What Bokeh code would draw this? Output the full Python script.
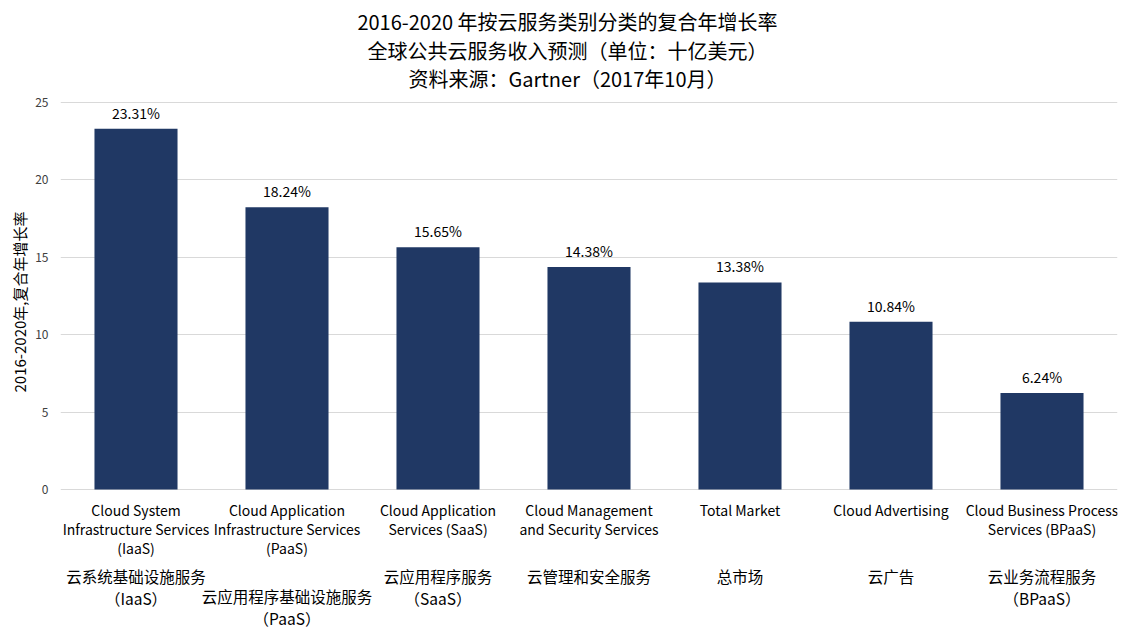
import math
from bokeh.plotting import figure
from bokeh.models import FactorRange, Range1d, FixedTicker, Label, ColumnDataSource, Title
from bokeh.core.properties import value
from bokeh.embed import file_html
from bokeh.resources import INLINE

# ---- data ----
categories = ["IaaS", "PaaS", "SaaS", "Mgmt", "Total", "Ads", "BPaaS"]
cagr = [23.31, 18.24, 15.65, 14.38, 13.38, 10.84, 6.24]
english_labels = [
    "Cloud System\nInfrastructure Services\n(IaaS)",
    "Cloud Application\nInfrastructure Services\n(PaaS)",
    "Cloud Application\nServices (SaaS)",
    "Cloud Management\nand Security Services",
    "Total Market",
    "Cloud Advertising",
    "Cloud Business Process\nServices (BPaaS)",
]
chinese_labels = [
    "云系统基础设施服务\n（IaaS）",
    "云应用程序基础设施服务\n（PaaS）",
    "云应用程序服务\n（SaaS）",
    "云管理和安全服务",
    "总市场",
    "云广告",
    "云业务流程服务\n（BPaaS）",
]
title_lines = [
    "2016-2020 年按云服务类别分类的复合年增长率",
    "全球公共云服务收入预测（单位：十亿美元）",
    "资料来源：Gartner（2017年10月）",
]
y_title = "2016-2020年,复合年增长率"
y_ticks = [0, 5, 10, 15, 20, 25]

FONT = "Noto Sans CJK SC"
BAR = "#203864"

# frame covers the full height: plot area 25 -> y=102px, 0 -> y=489px
PX_PER_UNIT = (489 - 102) / 25.0
H = 632
y_start = -(H - 489) / PX_PER_UNIT
y_end = 25 + 102 / PX_PER_UNIT

p = figure(
    width=1124, height=H,
    x_range=FactorRange(*categories, range_padding=0),
    y_range=Range1d(y_start, y_end),
    output_backend="svg", toolbar_location=None,
    min_border_left=60, min_border_right=7, min_border_top=0, min_border_bottom=0,
)
p.outline_line_color = None
p.xaxis.visible = False
p.xgrid.grid_line_color = None
p.ygrid.grid_line_color = "#d9d9d9"
p.yaxis.ticker = FixedTicker(ticks=y_ticks)
p.ygrid.ticker = FixedTicker(ticks=y_ticks)
p.yaxis.axis_line_color = None
p.yaxis.major_tick_line_color = None
p.yaxis.minor_tick_line_color = None
p.yaxis.major_tick_out = 0
p.yaxis.major_tick_in = 0
p.yaxis.major_label_text_font = FONT
p.yaxis.major_label_text_font_size = "12px"
p.yaxis.major_label_text_color = "#404040"
p.yaxis.major_label_standoff = 12

src = ColumnDataSource(dict(x=categories, top=cagr, lbl=[f"{v:.2f}%" for v in cagr]))
p.vbar(x="x", top="top", width=0.55, source=src, fill_color=BAR, line_color=None)
p.text(x="x", y="top", text="lbl", source=src, text_align="center", text_baseline="bottom",
       y_offset=-6, text_font=value(FONT), text_font_size="14px", text_color="#000000")

# category labels (multi-line), placed below zero
ex, ey, et, eo = [], [], [], []
for c, lab in zip(categories, english_labels):
    for i, line in enumerate(lab.split("\n")):
        ex.append(c); ey.append(0); et.append(line); eo.append(20 + 19 * i)
p.text(x=ex, y=ey, text=et, y_offset=eo, text_align="center", text_baseline="middle",
       text_font=value(FONT), text_font_size="14px", text_color="#000000")

cx, cy, ct, co = [], [], [], []
for k, (c, lab) in enumerate(zip(categories, chinese_labels)):
    start = 106 if k == 1 else 86
    for i, line in enumerate(lab.split("\n")):
        cx.append(c); cy.append(0); ct.append(line); co.append(start + 22 * i)
p.text(x=cx, y=cy, text=ct, y_offset=co, text_align="center", text_baseline="middle",
       text_font=value(FONT), text_font_size="15.5px", text_color="#000000")

# titles (inside the frame, which spans the whole height)
for i, t in enumerate(title_lines):
    p.add_layout(Label(x=507, y=H - 21 - 28.5 * i, x_units="screen", y_units="screen", text=t,
                       text_align="center", text_baseline="middle", text_font=FONT,
                       text_font_size="20px", text_color="#000000"))

# y axis title, on the left panel
p.add_layout(Title(text=y_title, align="right", offset=211, text_font=FONT,
                   text_font_size="15px", text_font_style="normal", text_color="#000000",
                   standoff=6), "left")

open("out.html", "w").write(file_html(p, INLINE))
